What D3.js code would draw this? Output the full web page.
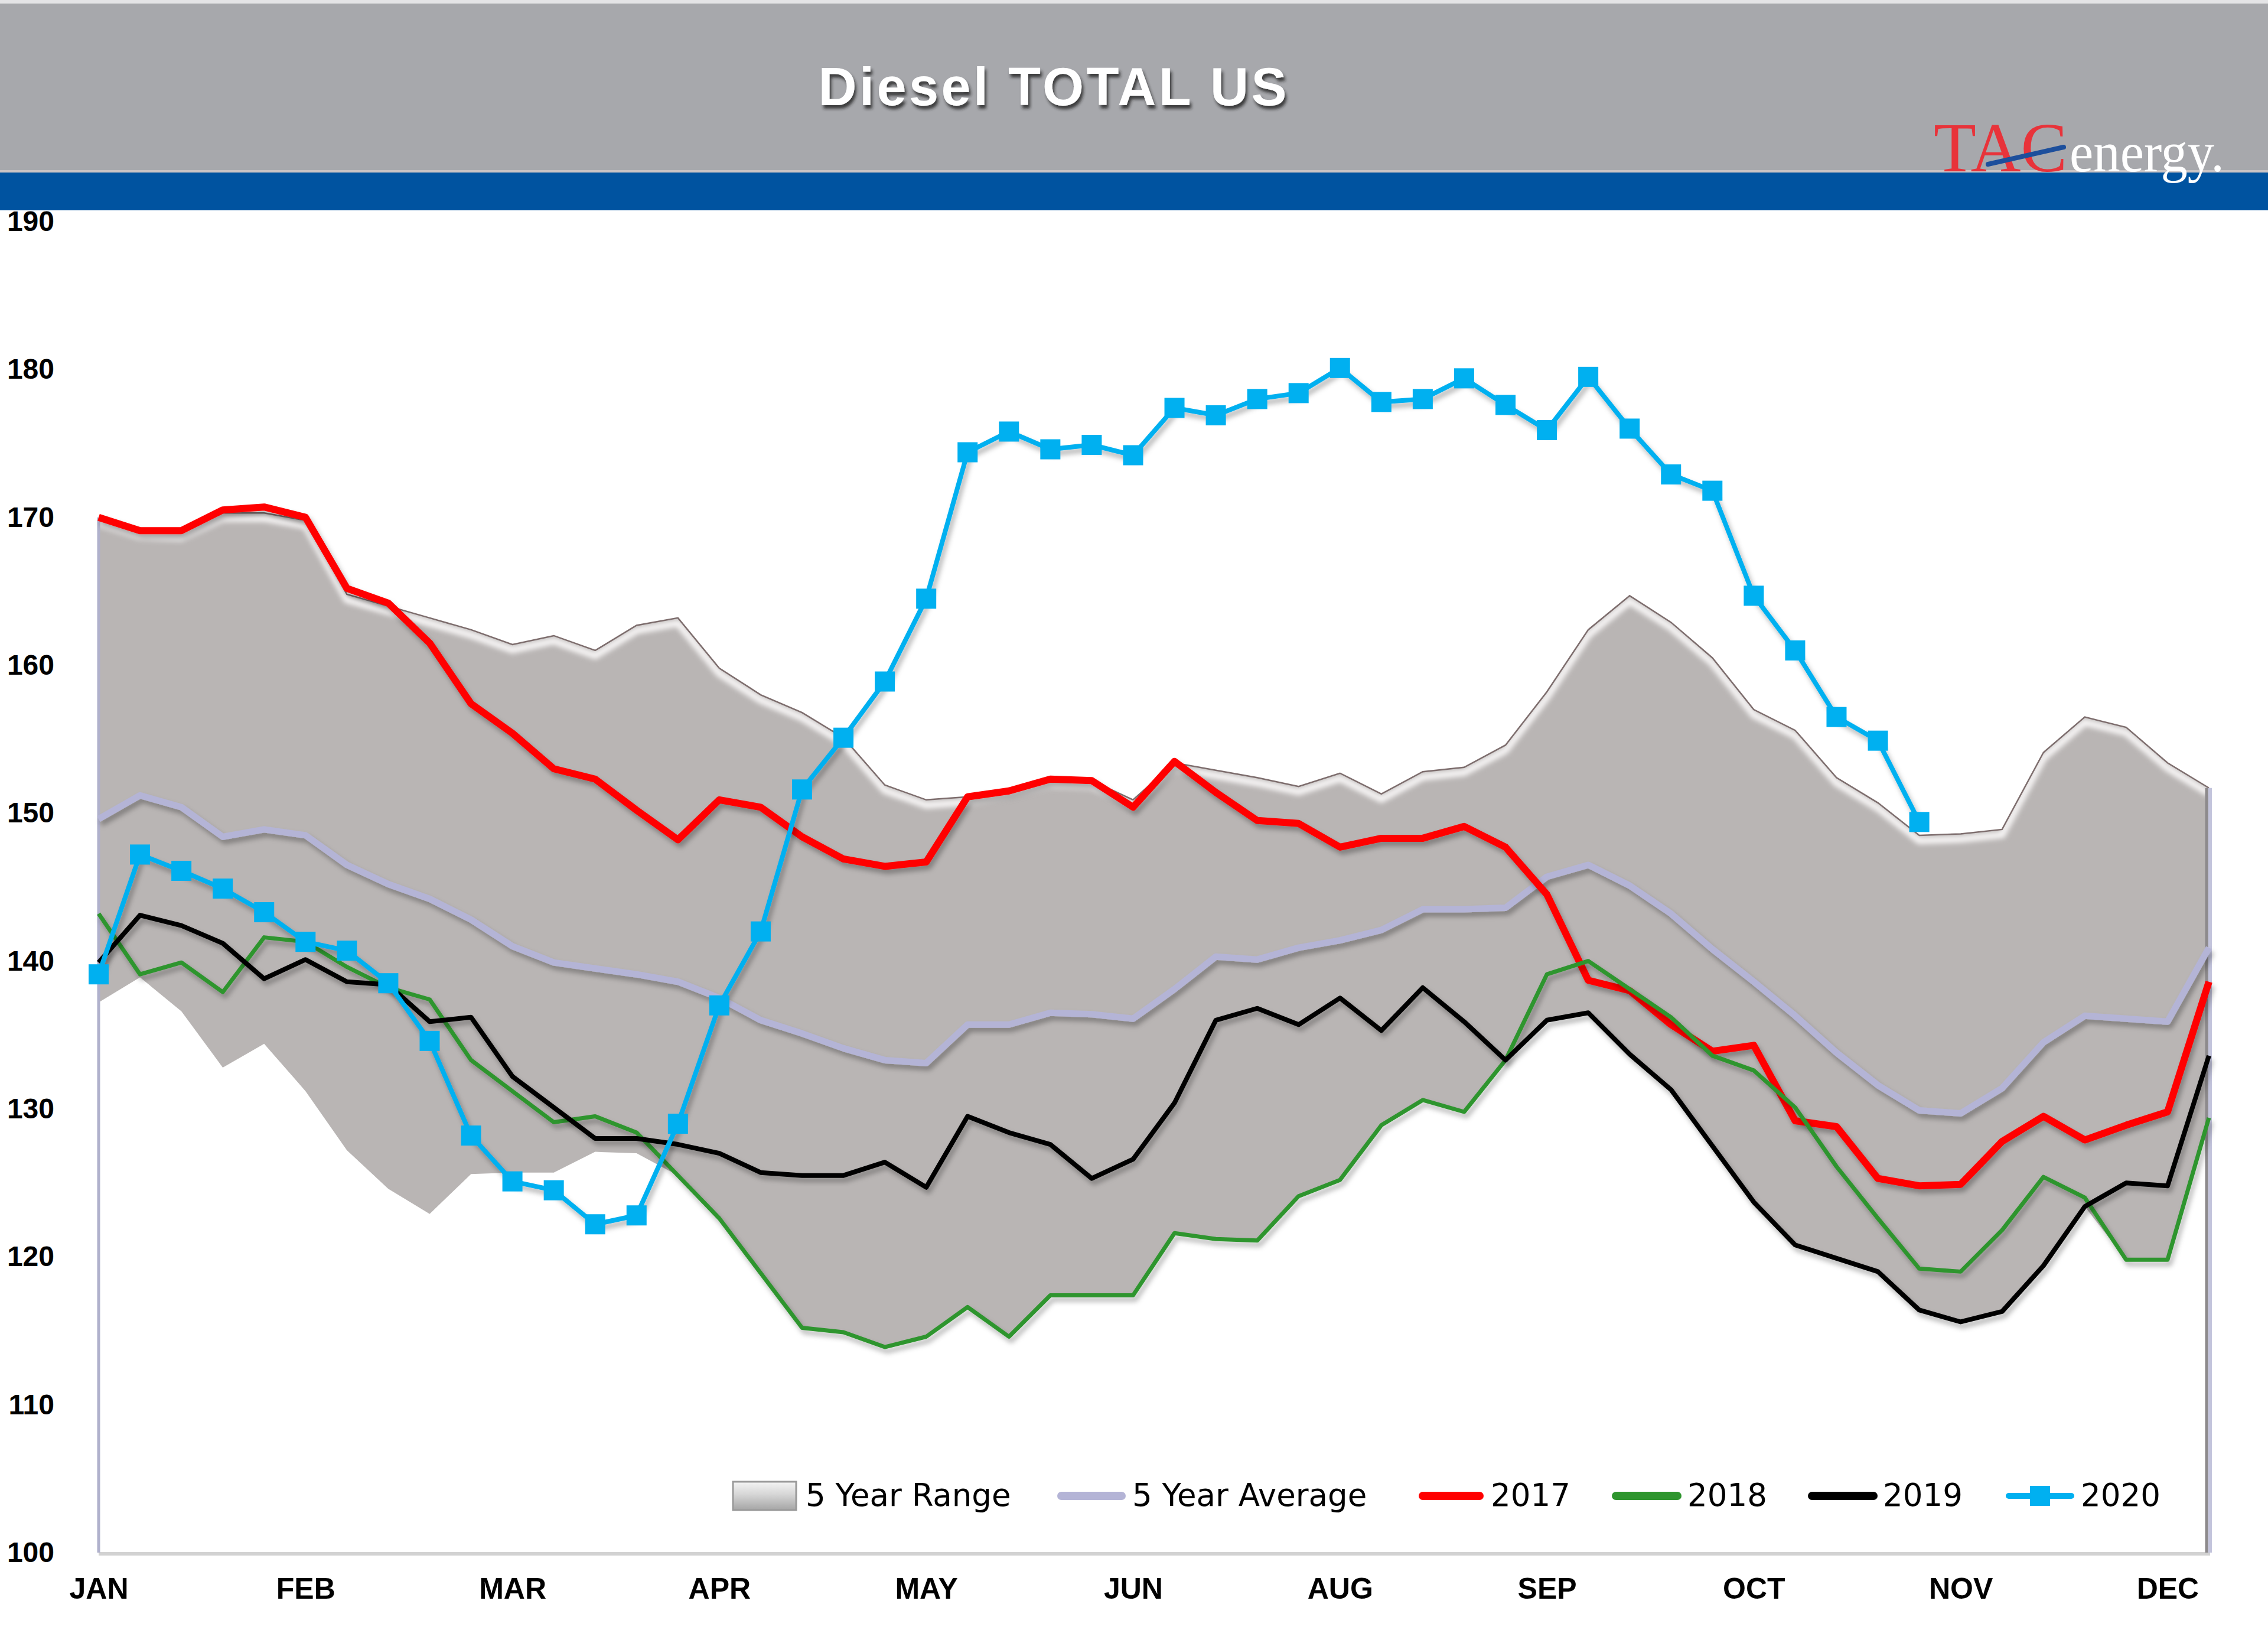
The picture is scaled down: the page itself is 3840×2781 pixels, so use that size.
<!DOCTYPE html>
<html>
<head>
<meta charset="utf-8">
<script src="https://cdn.jsdelivr.net/npm/d3@7"></script>
<style>
  body { margin: 0; background: #ffffff; }
  svg { display: block; }
</style>
</head>
<body>
<div id="chart"></div>
<script>
// Week numbers (category axis) and the month labels shown every 5th week
const weeks = d3.range(1, 53);
const monthLabels = ["JAN", "FEB", "MAR", "APR", "MAY", "JUN", "AUG", "SEP", "OCT", "NOV", "DEC"];
const yTicks = [100, 110, 120, 130, 140, 150, 160, 170, 180, 190];

// 5 year range (top / bottom of the grey band)
const rangeHigh = [170.0, 169.1, 169.0, 170.3, 170.3, 169.8, 164.8, 164.0, 163.2, 162.4,
                   161.4, 162.0, 161.0, 162.7, 163.2, 159.8, 158.0, 156.8, 155.1, 151.9,
                   150.9, 151.1, 151.6, 152.3, 152.2, 150.9, 153.4, 152.9, 152.4, 151.8,
                   152.7, 151.3, 152.8, 153.1, 154.6, 158.2, 162.4, 164.7, 162.9, 160.5,
                   157.0, 155.6, 152.4, 150.7, 148.5, 148.6, 148.9, 154.1, 156.5, 155.8,
                   153.4, 151.7];
const rangeLow = [137.2, 138.9, 136.6, 132.8, 134.4, 131.2, 127.2, 124.6, 122.9, 125.6,
                  125.7, 125.7, 127.1, 127.0, 125.5, 122.6, 118.9, 115.2, 114.9, 113.9,
                  114.6, 116.6, 114.6, 117.4, 117.4, 117.4, 121.6, 121.2, 121.1, 124.1,
                  125.2, 128.9, 130.6, 129.8, 133.3, 136.0, 136.5, 133.7, 131.3, 127.5,
                  123.7, 120.8, 119.9, 119.0, 116.4, 115.6, 116.3, 119.4, 123.4, 119.8,
                  119.8, 129.4];
const avg5 = [149.6, 151.2, 150.4, 148.4, 148.9, 148.5, 146.5, 145.2, 144.2, 142.8,
              141.0, 139.9, 139.5, 139.1, 138.6, 137.5, 136.0, 135.1, 134.1, 133.3,
              133.1, 135.7, 135.7, 136.5, 136.4, 136.1, 138.1, 140.3, 140.1, 140.9,
              141.4, 142.1, 143.5, 143.5, 143.6, 145.7, 146.5, 145.1, 143.2, 140.8,
              138.6, 136.3, 133.8, 131.6, 129.9, 129.7, 131.4, 134.5, 136.3, 136.1,
              135.9, 140.9];
const y2017 = [170.0, 169.1, 169.1, 170.5, 170.7, 170.0, 165.2, 164.2, 161.5, 157.4,
               155.4, 153.0, 152.3, 150.2, 148.2, 150.9, 150.4, 148.4, 146.9, 146.4,
               146.7, 151.1, 151.5, 152.3, 152.2, 150.4, 153.5, 151.4, 149.5, 149.3,
               147.7, 148.3, 148.3, 149.1, 147.7, 144.5, 138.7, 138.0, 135.7, 133.9,
               134.3, 129.2, 128.8, 125.3, 124.8, 124.9, 127.8, 129.5, 127.9, 128.9,
               129.8, 138.6];
const y2018 = [143.2, 139.1, 139.9, 137.9, 141.6, 141.3, 139.6, 138.2, 137.4, 133.3,
               131.2, 129.1, 129.5, 128.4, 125.5, 122.6, 118.9, 115.2, 114.9, 113.9,
               114.6, 116.6, 114.6, 117.4, 117.4, 117.4, 121.6, 121.2, 121.1, 124.1,
               125.2, 128.9, 130.6, 129.8, 133.3, 139.1, 140.0, 138.1, 136.2, 133.6,
               132.6, 130.1, 126.1, 122.6, 119.2, 119.0, 121.8, 125.4, 124.0, 119.8,
               119.8, 129.4];
const y2019 = [139.9, 143.1, 142.4, 141.2, 138.8, 140.1, 138.6, 138.4, 135.9, 136.2,
               132.2, 130.1, 128.0, 128.0, 127.6, 127.0, 125.7, 125.5, 125.5, 126.4,
               124.7, 129.5, 128.4, 127.6, 125.3, 126.6, 130.4, 136.0, 136.8, 135.7,
               137.5, 135.3, 138.2, 135.9, 133.3, 136.0, 136.5, 133.7, 131.3, 127.5,
               123.7, 120.8, 119.9, 119.0, 116.4, 115.6, 116.3, 119.4, 123.4, 125.0,
               124.8, 133.6];
const y2020 = [139.1, 147.2, 146.1, 144.9, 143.3, 141.3, 140.7, 138.5, 134.6, 128.2,
               125.1, 124.5, 122.2, 122.8, 129.0, 137.0, 142.0, 151.6, 155.1, 158.9,
               164.5, 174.4, 175.8, 174.6, 174.9, 174.2, 177.4, 176.9, 178.0, 178.4,
               180.1, 177.8, 178.0, 179.4, 177.6, 175.9, 179.5, 176.0, 172.9, 171.8,
               164.7, 161.0, 156.5, 154.9, 149.4];

const W = 3840, H = 2781;
const svg = d3.select("#chart").append("svg")
    .attr("width", W)
    .attr("height", H);

const defs = svg.append("defs");

// drop shadow for lines
const shadow = defs.append("filter").attr("id", "shadow")
    .attr("x", "-5%").attr("y", "-5%").attr("width", "110%").attr("height", "120%");
shadow.append("feDropShadow")
    .attr("dx", 4).attr("dy", 7).attr("stdDeviation", 4)
    .attr("flood-color", "#000").attr("flood-opacity", 0.3);

const titleShadow = defs.append("filter").attr("id", "titleShadow");
titleShadow.append("feDropShadow")
    .attr("dx", 3).attr("dy", 6).attr("stdDeviation", 2.5)
    .attr("flood-color", "#222").attr("flood-opacity", 0.8);

const blur = defs.append("filter").attr("id", "blur");
blur.append("feGaussianBlur").attr("stdDeviation", 4);

const swatchGrad = defs.append("linearGradient").attr("id", "swatchGrad")
    .attr("x1", 0).attr("y1", 0).attr("x2", 0).attr("y2", 1);
swatchGrad.append("stop").attr("offset", "0%").attr("stop-color", "#f4f4f4");
swatchGrad.append("stop").attr("offset", "45%").attr("stop-color", "#d6d6d6");
swatchGrad.append("stop").attr("offset", "100%").attr("stop-color", "#a5a5a5");

// Header
svg.append("rect").attr("x", 0).attr("y", 0).attr("width", W).attr("height", 292)
    .attr("fill", "#a7a8ac");
svg.append("rect").attr("x", 0).attr("y", 0).attr("width", W).attr("height", 6)
    .attr("fill", "#e4e4e6");
svg.append("rect").attr("x", 0).attr("y", 288).attr("width", W).attr("height", 4)
    .attr("fill", "#cbc4c4");
svg.append("rect").attr("x", 0).attr("y", 292).attr("width", W).attr("height", 64)
    .attr("fill", "#0053a0");

svg.append("text")
    .attr("x", 1782)
    .attr("y", 178)
    .attr("text-anchor", "middle")
    .attr("textLength", 793)
    .attr("lengthAdjust", "spacing")
    .style("font-family", "'Liberation Sans', Arial, sans-serif")
    .style("font-weight", "bold")
    .style("font-size", "90px")
    .style("fill", "#ffffff")
    .attr("filter", "url(#titleShadow)")
    .text("Diesel TOTAL US");

// Logo
const logo = svg.append("g");
logo.append("text")
    .attr("x", 3274).attr("y", 290)
    .attr("textLength", 226).attr("lengthAdjust", "spacingAndGlyphs")
    .style("font-family", "'Liberation Serif', 'Times New Roman', serif")
    .style("font-size", "118px")
    .style("fill", "#e8333a")
    .text("TAC");
logo.append("line")
    .attr("x1", 3366).attr("y1", 278).attr("x2", 3494).attr("y2", 249)
    .attr("stroke", "#1d4f9c").attr("stroke-width", 8).attr("stroke-linecap", "round");
logo.append("text")
    .attr("x", 3504).attr("y", 290)
    .attr("textLength", 262).attr("lengthAdjust", "spacingAndGlyphs")
    .style("font-family", "'Liberation Serif', 'Times New Roman', serif")
    .style("font-size", "96px")
    .style("fill", "#ffffff")
    .text("energy.");

// Scales
const x = d3.scalePoint()
    .domain(weeks)
    .range([167, 3740]);

const y = d3.scaleLinear()
    .domain([100, 190])
    .range([2628, 375]);

// Y axis labels
const yAxis = svg.append("g")
    .attr("transform", "translate(167,0)")
    .call(d3.axisLeft(y).tickValues(yTicks).tickSize(0).tickPadding(75));
yAxis.select(".domain").remove();
yAxis.selectAll("text")
    .style("font-family", "'Liberation Sans', Arial, sans-serif")
    .style("font-weight", "bold")
    .style("font-size", "48px")
    .style("fill", "#000");

// X axis labels (every 5th week)
const xAxis = svg.append("g")
    .attr("transform", "translate(0,2628)")
    .call(d3.axisBottom(x)
        .tickValues(weeks.filter((d, i) => i % 5 === 0))
        .tickFormat((d, i) => monthLabels[i])
        .tickSize(0)
        .tickPadding(42));
xAxis.select(".domain").remove();
xAxis.selectAll("text")
    .style("font-family", "'Liberation Sans', Arial, sans-serif")
    .style("font-weight", "bold")
    .style("font-size", "50px")
    .style("fill", "#000");

// bottom axis line
svg.append("line")
    .attr("x1", 167).attr("x2", 3742)
    .attr("y1", 2630).attr("y2", 2630)
    .attr("stroke", "#d2d2d2").attr("stroke-width", 6);

// 5 Year Range band
const area = d3.area()
    .x((d, i) => x(weeks[i]))
    .y0((d, i) => y(rangeLow[i]))
    .y1(d => y(d));

defs.append("clipPath").attr("id", "rangeClip")
    .append("path").attr("d", area(rangeHigh));

svg.append("path")
    .attr("d", area(rangeHigh))
    .attr("fill", "#b9b5b4");

const topLine = d3.line()
    .x((d, i) => x(weeks[i]))
    .y(d => y(d));

// bevel highlight along the top edge
svg.append("g").attr("clip-path", "url(#rangeClip)")
    .append("path")
    .attr("d", topLine(rangeHigh))
    .attr("transform", "translate(0,9)")
    .attr("fill", "none")
    .attr("stroke", "#f6f4f4")
    .attr("stroke-width", 12)
    .attr("filter", "url(#blur)");

svg.append("path")
    .attr("d", topLine(rangeHigh))
    .attr("fill", "none")
    .attr("stroke", "#7d6d6d")
    .attr("stroke-width", 2.5);

// edges of the band down to the baseline
svg.append("line")
    .attr("x1", 167).attr("x2", 167)
    .attr("y1", y(rangeHigh[0])).attr("y2", 2628)
    .attr("stroke", "#b0b1cc").attr("stroke-width", 5);
svg.append("line")
    .attr("x1", 3736).attr("x2", 3736)
    .attr("y1", y(rangeHigh[51])).attr("y2", 2628)
    .attr("stroke", "#8d8a8c").attr("stroke-width", 5);
svg.append("line")
    .attr("x1", 3742).attr("x2", 3742)
    .attr("y1", y(rangeHigh[51])).attr("y2", 2628)
    .attr("stroke", "#c3c4dc").attr("stroke-width", 6);

// Lines
const line = d3.line()
    .x((d, i) => x(weeks[i]))
    .y(d => y(d));

const series = [
    {name: "5 Year Average", values: avg5, color: "#b4b4d6", width: 11},
    {name: "2017", values: y2017, color: "#ff0000", width: 12},
    {name: "2018", values: y2018, color: "#2e952e", width: 7},
    {name: "2019", values: y2019, color: "#000000", width: 8},
    {name: "2020", values: y2020, color: "#00b0f0", width: 8}
];

series.forEach(s => {
    svg.append("path")
        .datum(s.values)
        .attr("fill", "none")
        .attr("stroke", s.color)
        .attr("stroke-width", s.width)
        .attr("stroke-linejoin", "round")
        .attr("filter", "url(#shadow)")
        .attr("d", line);
});

// 2020 square markers
const mSize = 34;
svg.append("g")
    .selectAll("rect")
    .data(y2020)
    .enter()
    .append("rect")
    .attr("x", (d, i) => x(weeks[i]) - mSize / 2)
    .attr("y", d => y(d) - mSize / 2)
    .attr("width", mSize)
    .attr("height", mSize)
    .attr("fill", "#00b0f0");

// Legend
const legendY = 2532;
const legendFont = "'DejaVu Sans', Verdana, sans-serif";
const legend = svg.append("g");

const legendItems = [
    {label: "5 Year Range", x0: 1241, x1: 1348, tx: 1364},
    {label: "5 Year Average", x0: 1790, x1: 1906, tx: 1917, color: "#b4b4d6", width: 14},
    {label: "2017", x0: 2402, x1: 2512, tx: 2524, color: "#ff0000", width: 14},
    {label: "2018", x0: 2729, x1: 2847, tx: 2857, color: "#2e952e", width: 14},
    {label: "2019", x0: 3061, x1: 3179, tx: 3188, color: "#000000", width: 14},
    {label: "2020", x0: 3396, x1: 3512, tx: 3523, color: "#00b0f0", width: 10, marker: true}
];

legendItems.forEach(item => {
    if (!item.color) {
        legend.append("rect")
            .attr("x", item.x0).attr("y", legendY - 24)
            .attr("width", item.x1 - item.x0).attr("height", 48)
            .attr("fill", "url(#swatchGrad)")
            .attr("stroke", "#9a9a9a").attr("stroke-width", 3);
    } else {
        legend.append("line")
            .attr("x1", item.x0 + item.width / 2).attr("x2", item.x1 - item.width / 2)
            .attr("y1", legendY).attr("y2", legendY)
            .attr("stroke", item.color)
            .attr("stroke-width", item.width)
            .attr("stroke-linecap", "round");
        if (item.marker) {
            legend.append("rect")
                .attr("x", (item.x0 + item.x1) / 2 - mSize / 2)
                .attr("y", legendY - mSize / 2)
                .attr("width", mSize).attr("height", mSize)
                .attr("fill", item.color);
        }
    }
    legend.append("text")
        .attr("x", item.tx)
        .attr("y", legendY + 17)
        .style("font-family", legendFont)
        .style("font-size", "53px")
        .style("fill", "#000")
        .text(item.label);
});
</script>
</body>
</html>
